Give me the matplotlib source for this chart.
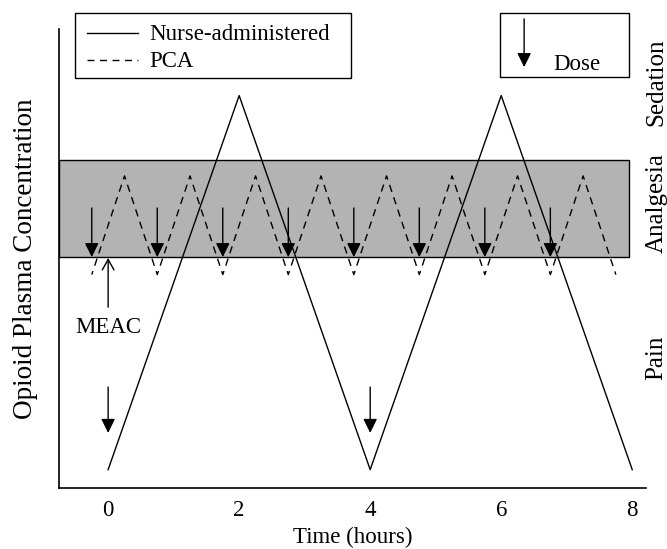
#!/usr/bin/env python3
"""Opioid plasma concentration: nurse-administered vs PCA dosing."""
import matplotlib
matplotlib.use("Agg")
import matplotlib.pyplot as plt
from matplotlib.patches import Rectangle

plt.rcParams["font.family"] = ["Liberation Serif", "DejaVu Serif"]

# time (hours) and concentration (arbitrary units, 0-100 scale)
nurse_t = [0, 2, 4, 6, 8]
nurse_c = [4, 85.5, 4, 85.5, 4]
nurse_dose_t = [0, 4]

pca_t = [-0.25, 0.25, 0.75, 1.25, 1.75, 2.25, 2.75, 3.25, 3.75,
         4.25, 4.75, 5.25, 5.75, 6.25, 6.75, 7.25, 7.75]
pca_c = [46.5, 68, 46.5, 68, 46.5, 68, 46.5, 68, 46.5,
         68, 46.5, 68, 46.5, 68, 46.5, 68, 46.5]
pca_dose_t = [-0.25, 0.75, 1.75, 2.75, 3.75, 4.75, 5.75, 6.75]

band_low, band_high = 50.3, 71.5
band_end = 7.95
meac_t = 0

xticks = [0, 2, 4, 6, 8]
zones = ["Sedation", "Analgesia", "Pain"]
zone_y = [88.5, 62.0, 28.3]

FS = 16.5
DASH = (2.65, (5.3, 4.06))

fig = plt.figure(figsize=(6.67, 5.49), dpi=100)
ax = fig.add_axes([59 / 667, 1 - 488 / 549, 587 / 667, 459 / 549])
ax.set_xlim(-0.75, 8.21)
ax.set_ylim(0, 100)

# therapeutic band
ax.add_patch(Rectangle((-0.75, band_low), band_end + 0.75, band_high - band_low,
                       facecolor="#b3b3b3", edgecolor="black", linewidth=1.0, zorder=1))

ax.plot(nurse_t, nurse_c, color="black", linewidth=1.0, zorder=3)
ax.plot(pca_t, pca_c, color="black", linewidth=1.0, linestyle=DASH, zorder=3)


def dose_arrow(x, y_from, y_to):
    ax.annotate("", xy=(x, y_to), xytext=(x, y_from),
                arrowprops=dict(arrowstyle="-|>,head_length=0.85,head_width=0.42",
                                mutation_scale=10, color="black", linewidth=1.0,
                                shrinkA=0, shrinkB=0),
                annotation_clip=False, zorder=4)


for t in pca_dose_t:
    dose_arrow(t, 61.0, band_low)
for t in nurse_dose_t:
    dose_arrow(t, 22.0, 12.0)

# MEAC marker
ax.annotate("", xy=(meac_t, band_low - 0.2), xytext=(meac_t, 39.4),
            arrowprops=dict(arrowstyle="->,head_length=0.5,head_width=0.28",
                            mutation_scale=15, color="black", linewidth=1.0,
                            shrinkA=0, shrinkB=0), zorder=4)
ax.text(meac_t, 34.9, "MEAC", ha="center", va="center", fontsize=FS)

# line legend box
ax.add_patch(Rectangle((-0.50, 89.3), 4.21, 14.2, facecolor="white", edgecolor="black",
                       linewidth=1.0, clip_on=False, zorder=5))
ax.plot([-0.32, 0.46], [99.1, 99.1], color="black", linewidth=1.0, clip_on=False, zorder=6)
ax.plot([-0.32, 0.46], [93.2, 93.2], color="black", linewidth=1.0,
        linestyle=(0, (5, 4)), clip_on=False, zorder=6)
ax.text(0.63, 97.6, "Nurse-administered", ha="left", va="baseline", fontsize=FS, zorder=6)
ax.text(0.63, 91.7, "PCA", ha="left", va="baseline", fontsize=FS, zorder=6)

# dose legend box
ax.add_patch(Rectangle((5.98, 89.5), 1.97, 14.0, facecolor="white", edgecolor="black",
                       linewidth=1.0, clip_on=False, zorder=5))
ax.annotate("", xy=(6.35, 91.7), xytext=(6.35, 102.2),
            arrowprops=dict(arrowstyle="-|>,head_length=0.85,head_width=0.42",
                            mutation_scale=10, color="black", linewidth=1.0,
                            shrinkA=0, shrinkB=0),
            annotation_clip=False, zorder=6)
ax.text(6.79, 91.1, "Dose", ha="left", va="baseline", fontsize=FS, zorder=6)

for label, y in zip(zones, zone_y):
    ax.text(8.37, y, label, rotation=90, ha="center", va="center", fontsize=18,
            clip_on=False)

ax.spines["top"].set_visible(False)
ax.spines["right"].set_visible(False)
for s in ("left", "bottom"):
    ax.spines[s].set_linewidth(1.2)
ax.set_xticks(xticks)
ax.set_yticks([])
ax.tick_params(axis="x", length=0, pad=9, labelsize=FS)
ax.set_xlabel("Time (hours)", fontsize=FS, labelpad=4)
ax.set_ylabel("Opioid Plasma Concentration", fontsize=19.5, labelpad=15)

fig.savefig("out.png", dpi=100)
